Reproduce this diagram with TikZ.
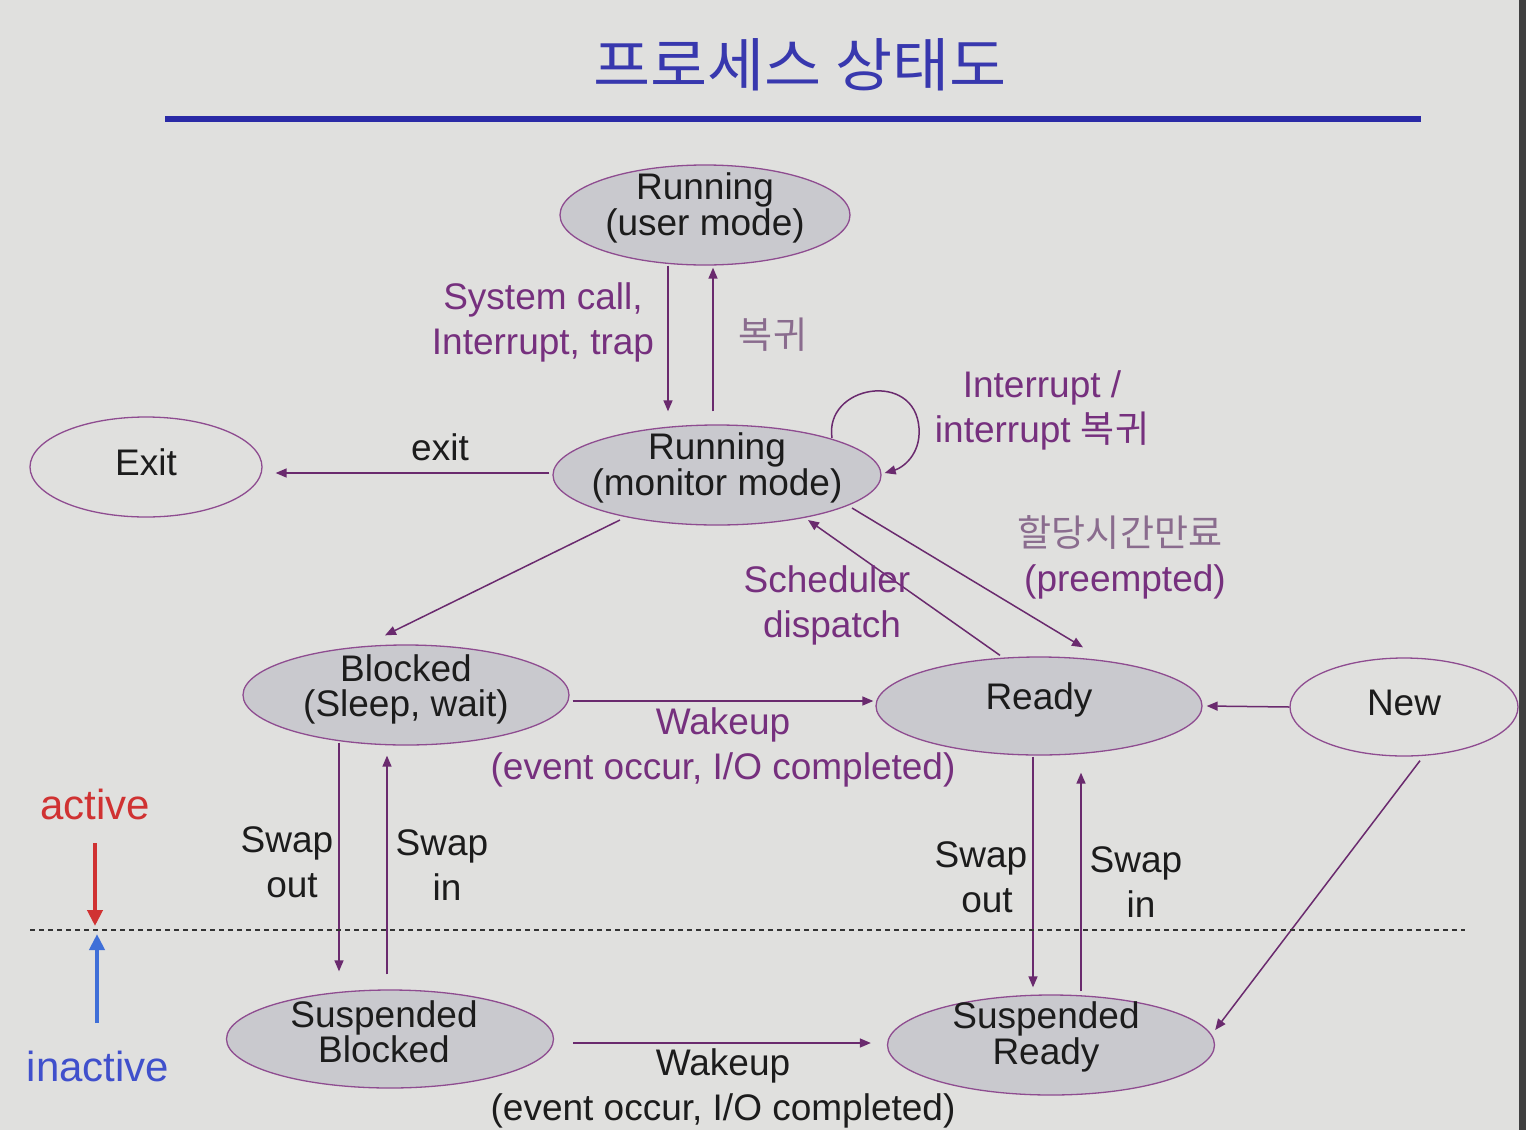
\documentclass[tikz,border=0pt]{standalone}
\usepackage{fontspec}
\setmainfont{Liberation Sans}
\newfontfamily\kr{Noto Sans CJK KR}
\usetikzlibrary{shapes.geometric,arrows.meta}
\definecolor{bg}{HTML}{E0E0DE}
\definecolor{nodefill}{HTML}{C9C9CE}
\definecolor{edgec}{HTML}{8E4C90}
\definecolor{connc}{HTML}{6A2A6E}
\definecolor{labc}{HTML}{76307E}
\definecolor{klabc}{HTML}{8A6C8E}
\definecolor{txtc}{HTML}{1C1C1C}
\definecolor{titlec}{HTML}{3838AE}
\definecolor{rulec}{HTML}{2A2AA6}
\definecolor{actc}{HTML}{D03232}
\definecolor{inactc}{HTML}{4050CC}
\definecolor{inarrc}{HTML}{3F6FD8}
\begin{document}
\begin{tikzpicture}[x=1pt,y=-1pt,
  st/.style={ellipse, draw=edgec, line width=1.3pt, fill=nodefill, inner sep=0pt},
  openst/.style={ellipse, draw=edgec, line width=1.3pt, inner sep=0pt},
  txt/.style={font=\fontsize{37}{33}\selectfont, text=txtc, align=center, inner sep=0pt},
  lab/.style={font=\fontsize{37}{45}\selectfont, text=labc, align=center, inner sep=0pt},
  blab/.style={font=\fontsize{37}{45}\selectfont, text=txtc, align=center, inner sep=0pt},
  klab/.style={font=\fontsize{37}{45}\selectfont, text=klabc, align=center, inner sep=0pt},
  conn/.style={draw=connc, line width=1.5pt, -{Triangle[length=11pt,width=9pt]}},
  bigarr/.style={line width=4pt, -{Triangle[length=16pt,width=15pt]}},
]
\useasboundingbox (0,0) rectangle (1526,1130);
\fill[bg] (0,0) rectangle (1526,1130);
\fill[black!75] (1519,0) rectangle (1526,1130);

% title
\node[font=\fontsize{58}{58}\selectfont\kr, text=titlec, inner sep=0pt] (title) at (800,65) {\scalebox{1.07}[1]{프로세스 상태도}};
\coordinate (r1) at (165,119);
\coordinate (r2) at (1421,119);
\draw[rulec, line width=6pt] (r1) -- (r2);

% states
\node[st, minimum width=290pt, minimum height=100pt] (ru) at (705,215) {};
\node[st, minimum width=328pt, minimum height=100pt] (rm) at (717,475) {};
\node[openst, minimum width=232pt, minimum height=100pt] (ex) at (146,467) {};
\node[st, minimum width=326pt, minimum height=100pt] (bl) at (406,695) {};
\node[st, minimum width=326pt, minimum height=98pt] (rd) at (1039,706) {};
\node[openst, minimum width=228pt, minimum height=98pt] (nw) at (1404,707) {};
\node[st, minimum width=327pt, minimum height=98pt] (sb) at (390,1039) {};
\node[st, minimum width=327pt, minimum height=100pt] (sr) at (1051,1045) {};

\node[txt] (ru-t) at (705,208) {Running\\(user mode)};
\node[txt] (rm-t) at (717,468) {Running\\(monitor mode)};
\node[txt] (ex-t) at (146,462) {Exit};
\node[txt, font=\fontsize{37}{35}\selectfont] (bl-t) at (406,689) {Blocked\\(Sleep, wait)};
\node[txt] (rd-t) at (1039,700) {Ready};
\node[txt] (nw-t) at (1404,703) {New};
\node[txt] (sb-t) at (384,1032) {Suspended\\Blocked};
\node[txt] (sr-t) at (1046,1037) {Suspended\\Ready};

% connectors
\draw[conn] ([shift={(-37,0)}]ru.south) -- ([shift={(-49,-13)}]rm.north);
\draw[conn] ([shift={(-4,-13)}]rm.north) -- ([shift={(8,2)}]ru.south);
\draw[conn] ([shift={(115,-37)}]rm.center) .. controls (824,385) and (915,370) .. (919,428) .. controls (921,455) and (902,468) .. ([shift={(3,-2)}]rm.east);
\draw[conn] ([shift={(-3,-2)}]rm.west) -- ([shift={(13,6)}]ex.east);
\draw[conn] ([shift={(-97,45)}]rm.center) -- ([shift={(-21,-9)}]bl.north);
\draw[conn] ([shift={(-39,-1)}]rd.north) -- ([shift={(91,45)}]rm.center);
\draw[conn] ([shift={(135,33)}]rm.center) -- ([shift={(44,-9)}]rd.north);
\draw[conn] ([shift={(3,6)}]bl.east) -- ([shift={(-2,-5)}]rd.west);
\draw[conn] (nw.west) -- ([shift={(4,0)}]rd.east);
\draw[conn] ([shift={(-67,-3)}]bl.south) -- ([shift={(-51,-18)}]sb.north);
\draw[conn] ([shift={(-3,-15)}]sb.north) -- ([shift={(-19,10)}]bl.south);
\draw[conn] ([shift={(-6,1)}]rd.south) -- ([shift={(-18,-7)}]sr.north);
\draw[conn] ([shift={(30,-3)}]sr.north) -- ([shift={(42,17)}]rd.south);
\draw[conn] ([shift={(16,4)}]nw.south) -- ([shift={(0,-15)}]sr.east);
\draw[conn] ([shift={(19,4)}]sb.east) -- ([shift={(-16,-2)}]sr.west);

% labels
\node[lab] (l-sys) at (543,322) {System call,\\Interrupt, trap};
\node[klab, font=\fontsize{37}{45}\selectfont\kr] (l-ret) at (773,335) {복귀};
\node[lab] (l-int) at (1042,410) {Interrupt /\\interrupt {\kr 복귀}};
\node[blab] (l-exit) at (440,447) {exit};
\node[lab] (l-sch) at (827,605) {Scheduler\\\hspace*{10pt}dispatch};
\node[lab] (l-pre) at (1120,557) {{\color{klabc}\kr 할당시간만료}\\\hspace*{10pt}(preempted)};
\node[lab] (l-wk1) at (723,747) {Wakeup\\(event occur, I/O completed)};
\node[blab] (l-so1) at (287,862) {Swap\\\hspace*{10pt}out};
\node[blab] (l-si1) at (442,865) {Swap\\\hspace*{10pt}in};
\node[blab] (l-so2) at (981,877) {Swap\\\hspace*{12pt}out};
\node[blab] (l-si2) at (1136,882) {Swap\\\hspace*{10pt}in};
\node[blab] (l-wk2) at (723,1088) {Wakeup\\(event occur, I/O completed)};

% active / inactive
\coordinate (d1) at (30,930);
\coordinate (d2) at (1465,930);
\draw[black!80, line width=1.5pt, dash pattern=on 5pt off 4pt] (d1) -- (d2);
\node[font=\fontsize{42}{45}\selectfont, text=actc, inner sep=0pt] (act) at (95,804) {active};
\node[font=\fontsize{42}{45}\selectfont, text=inactc, inner sep=0pt] (inact) at (98,1066) {inactive};
\coordinate (a1) at (95,843);
\coordinate (a2) at (95,926);
\coordinate (b1) at (97,1023);
\coordinate (b2) at (97,934);
\draw[bigarr, actc] (a1) -- (a2);
\draw[bigarr, inarrc] (b1) -- (b2);
\end{tikzpicture}
\end{document}
